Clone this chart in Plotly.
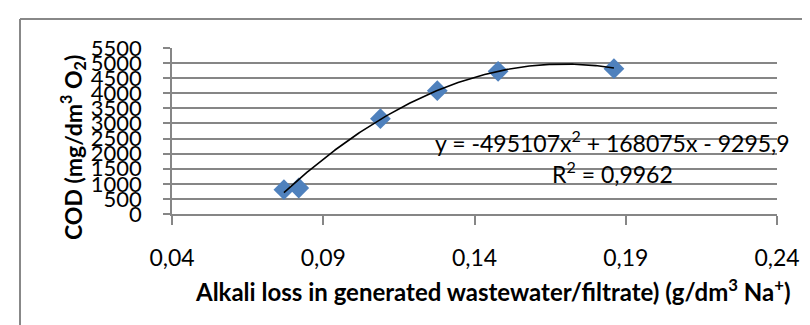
import numpy as np
import plotly.graph_objects as go

# ---- data ----
alkali_loss = [0.0770, 0.0819, 0.1089, 0.1277, 0.1478, 0.1861]
cod = [805, 861, 3158, 4086, 4727, 4814]

# polynomial trendline coefficients shown on the chart (a*x^2 + b*x + c)
trend_coef = [-495107, 168075, -9295.9]
r_squared_label = "0,9962"

x_ticks = [0.04, 0.09, 0.14, 0.19, 0.24]
x_tick_labels = ["0,04", "0,09", "0,14", "0,19", "0,24"]
y_ticks = [0, 500, 1000, 1500, 2000, 2500, 3000, 3500, 4000, 4500, 5000, 5500]
y_tick_labels = [str(v) for v in y_ticks]

x_title = "Alkali loss in generated wastewater/filtrate) (g/dm<sup>3</sup> Na<sup>+</sup>)"
y_title = "COD (mg/dm<sup>3</sup> O<sub>2</sub>)"

# ---- trendline from the displayed coefficients ----
tx = np.linspace(min(alkali_loss), max(alkali_loss), 200)
ty = np.polyval(trend_coef, tx)

GRAY = "#868686"
FONT = "Lato"

fig = go.Figure()
fig.add_trace(go.Scatter(
    x=alkali_loss, y=cod, mode="markers",
    marker=dict(symbol="diamond", size=16, color="#4F81BD",
                line=dict(width=0)),
    showlegend=False, hoverinfo="x+y",
))
fig.add_trace(go.Scatter(
    x=tx, y=ty, mode="lines",
    line=dict(color="black", width=1.6),
    showlegend=False, hoverinfo="skip",
))

# plot area: x 164..769 px, y 40..206 px
fig.update_layout(
    width=810, height=325,
    margin=dict(l=164, r=41, t=40, b=119, pad=0),
    paper_bgcolor="white", plot_bgcolor="white",
    font=dict(family=FONT, color="black"),
    xaxis=dict(
        range=[0.04, 0.24], tickvals=x_ticks, ticktext=x_tick_labels,
        showgrid=False, zeroline=False, automargin=False,
        showline=True, linecolor=GRAY, linewidth=1.5,
        ticks="outside", ticklen=9, tickcolor=GRAY, tickwidth=1.5,
        tickfont=dict(family=FONT, size=23, color="black"),
        ticklabelstandoff=14,
    ),
    yaxis=dict(
        range=[0, 5500], tickvals=y_ticks, ticktext=y_tick_labels,
        showgrid=True, gridcolor=GRAY, gridwidth=1.5, zeroline=False,
        automargin=False,
        showline=True, linecolor=GRAY, linewidth=1.5,
        ticks="outside", ticklen=7, tickcolor=GRAY, tickwidth=1.5,
        tickfont=dict(family=FONT, size=22, color="black"),
        ticklabelstandoff=17,
    ),
    annotations=[
        dict(text=f"<b>{y_title}</b>", xref="paper", yref="paper",
             x=(64 - 164) / 605, y=(206 - 140) / 166, textangle=-90,
             xanchor="center", yanchor="middle", showarrow=False,
             font=dict(family=FONT, size=23, color="black")),
        dict(text=f"<b>{x_title}</b>", xref="paper", yref="paper",
             x=(485 - 164) / 605, y=(206 - 282) / 166,
             xanchor="center", yanchor="middle", showarrow=False,
             font=dict(family=FONT, size=24, color="black")),
        dict(text=("y = %dx<sup>2</sup> + %dx - %s" %
                   (trend_coef[0], trend_coef[1],
                    str(-trend_coef[2]).replace(".", ","))),
             xref="paper", yref="paper",
             x=(604.5 - 164) / 605, y=(206 - 133) / 166,
             xanchor="center", yanchor="middle", showarrow=False,
             font=dict(family=FONT, size=23, color="black")),
        dict(text=f"R<sup>2</sup> = {r_squared_label}",
             xref="paper", yref="paper",
             x=(604.5 - 164) / 605, y=(206 - 164) / 166,
             xanchor="center", yanchor="middle", showarrow=False,
             font=dict(family=FONT, size=23, color="black")),
    ],
    shapes=[
        # outer chart-area frame (left and top edges visible in the reference)
        dict(type="line", xref="paper", yref="paper",
             x0=(12 - 164) / 605, x1=(12 - 164) / 605,
             y0=(206 - 330) / 166, y1=(206 - 11) / 166,
             line=dict(color="#888888", width=2), layer="above"),
        dict(type="line", xref="paper", yref="paper",
             x0=(12 - 164) / 605, x1=(815 - 164) / 605,
             y0=(206 - 11) / 166, y1=(206 - 11) / 166,
             line=dict(color="#888888", width=2), layer="above"),
    ],
)

fig.write_html("out.html")
